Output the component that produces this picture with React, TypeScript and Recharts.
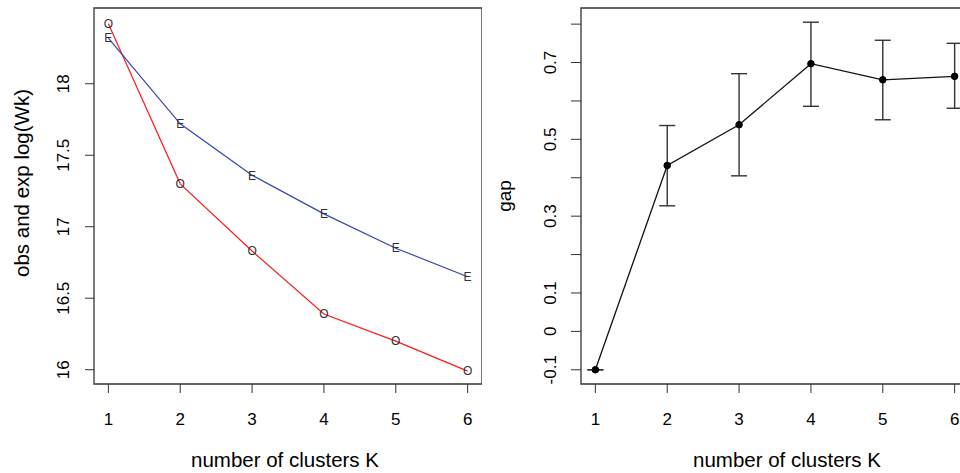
import {
  LineChart,
  Line,
  XAxis,
  YAxis,
  ReferenceArea,
  ErrorBar,
} from 'recharts'

// number of clusters
const clusters = [1, 2, 3, 4, 5, 6]

// left panel: observed vs expected log(Wk)
const observedLogW = [18.42, 17.3, 16.83, 16.39, 16.2, 15.99]
const expectedLogW = [18.32, 17.72, 17.36, 17.09, 16.85, 16.65]
const logWTicks = [16, 16.5, 17, 17.5, 18]
const logWTickLabels = ['16', '16.5', '17', '17.5', '18']

// right panel: gap statistic with error bars
const gapValues = [-0.1, 0.432, 0.538, 0.697, 0.655, 0.664]
const gapLower = [-0.1, 0.327, 0.405, 0.586, 0.551, 0.581]
const gapUpper = [-0.1, 0.536, 0.671, 0.805, 0.758, 0.75]
const gapTicks = [-0.1, 0, 0.1, 0.2, 0.3, 0.4, 0.5, 0.6, 0.7, 0.8]
const gapTickLabels = ['-0.1', '0', '0.1', '', '0.3', '', '0.5', '', '0.7', '']

const X_DOMAIN: [number, number] = [0.8, 6.2]
const LOGW_DOMAIN: [number, number] = [15.9, 18.53]
const GAP_DOMAIN: [number, number] = [-0.137, 0.842]

const FONT = '"Liberation Sans", Arial, Helvetica, sans-serif'
const AXIS_COLOR = '#333'
const TICK_FONT = 17

const logWData = clusters.map((k, i) => ({
  k,
  obs: observedLogW[i],
  exp: expectedLogW[i],
}))

const gapData = clusters.map((k, i) => ({
  k,
  gap: gapValues[i],
  err: [gapValues[i] - gapLower[i], gapUpper[i] - gapValues[i]],
}))

function RotatedTick(props: any) {
  const { x, y, payload, index, labels } = props
  const text = labels[payload.index ?? index] ?? ''
  if (!text) return <g />
  return (
    <text
      x={x}
      y={y}
      transform={`rotate(-90 ${x} ${y})`}
      textAnchor="middle"
      fontSize={TICK_FONT}
      fill="#000"
    >
      {text}
    </text>
  )
}

// draws a letter centred on the point, like R's pch = "O"
const letterDot = (ch: string) => (props: any) => {
  const { cx, cy, index } = props
  return (
    <text
      key={`${ch}-${index}`}
      x={cx}
      y={cy}
      dy={4.3}
      textAnchor="middle"
      fontSize={12}
      fill="#333"
    >
      {ch}
    </text>
  )
}

function yTitle(text: string, x: number, y: number, size: number) {
  return () => (
    <text
      x={x}
      y={y}
      transform={`rotate(-90 ${x} ${y})`}
      textAnchor="middle"
      fontSize={size}
      fill="#000"
    >
      {text}
    </text>
  )
}

function xTitle(cx: number) {
  return () => (
    <text x={cx} y={466.5} textAnchor="middle" fontSize={20.5} fill="#000">
      number of clusters K
    </text>
  )
}

export default function App() {
  return (
    <div
      style={{
        position: 'absolute',
        left: 0,
        top: 0,
        width: 960,
        height: 473,
        overflow: 'hidden',
        background: '#fff',
        fontFamily: FONT,
      }}
    >
      <div style={{ position: 'absolute', left: 0, top: 0 }}>
        <LineChart
          width={482}
          height={473}
          data={logWData}
          margin={{ top: 8, right: 0, left: 0, bottom: 0 }}
        >
          <XAxis
            dataKey="k"
            type="number"
            domain={X_DOMAIN}
            ticks={clusters}
            allowDataOverflow
            height={89}
            axisLine={false}
            tickLine={{ stroke: AXIS_COLOR }}
            tickSize={9}
            tickMargin={20}
            tick={{ fill: '#000', fontSize: TICK_FONT }}
            label={{ content: xTitle(285) }}
          />
          <YAxis
            type="number"
            domain={LOGW_DOMAIN}
            ticks={logWTicks}
            allowDataOverflow
            width={94}
            axisLine={false}
            tickLine={{ stroke: AXIS_COLOR }}
            tickSize={9}
            tickMargin={16}
            tick={(p: any) => <RotatedTick {...p} labels={logWTickLabels} />}
            label={{ content: yTitle('obs and exp log(Wk)', 28.5, 183, 20.5) }}
          />
          <ReferenceArea
            x1={X_DOMAIN[0]}
            x2={X_DOMAIN[1]}
            y1={LOGW_DOMAIN[0]}
            y2={LOGW_DOMAIN[1]}
            fill="none"
            stroke={AXIS_COLOR}
            strokeWidth={1.3}
          />
          <Line
            dataKey="obs"
            stroke="#ff1a1a"
            strokeWidth={1.2}
            dot={letterDot('O')}
            activeDot={false}
            isAnimationActive={false}
          />
          <Line
            dataKey="exp"
            stroke="#3646b0"
            strokeWidth={1.2}
            dot={letterDot('E')}
            activeDot={false}
            isAnimationActive={false}
          />
        </LineChart>
      </div>

      <div style={{ position: 'absolute', left: 480, top: 0 }}>
        <LineChart
          width={489}
          height={473}
          data={gapData}
          margin={{ top: 8, right: 0, left: 0, bottom: 0 }}
        >
          <XAxis
            dataKey="k"
            type="number"
            domain={X_DOMAIN}
            ticks={clusters}
            allowDataOverflow
            height={89}
            axisLine={false}
            tickLine={{ stroke: AXIS_COLOR }}
            tickSize={9}
            tickMargin={20}
            tick={{ fill: '#000', fontSize: TICK_FONT }}
            label={{ content: xTitle(307) }}
          />
          <YAxis
            type="number"
            domain={GAP_DOMAIN}
            ticks={gapTicks}
            allowDataOverflow
            width={101}
            axisLine={false}
            tickLine={{ stroke: AXIS_COLOR }}
            tickSize={10}
            tickMargin={15}
            tick={(p: any) => <RotatedTick {...p} labels={gapTickLabels} />}
            label={{ content: yTitle('gap', 31, 196, 19) }}
          />
          <ReferenceArea
            x1={X_DOMAIN[0]}
            x2={X_DOMAIN[1]}
            y1={GAP_DOMAIN[0]}
            y2={GAP_DOMAIN[1]}
            fill="none"
            stroke={AXIS_COLOR}
            strokeWidth={1.3}
          />
          <Line
            dataKey="gap"
            stroke="#111"
            strokeWidth={1.3}
            dot={{ r: 3.3, fill: '#000', stroke: '#000', strokeWidth: 1 }}
            activeDot={false}
            isAnimationActive={false}
          >
            <ErrorBar
              dataKey="err"
              direction="y"
              width={8}
              stroke="#333"
              strokeWidth={1.4}
              isAnimationActive={false}
            />
          </Line>
        </LineChart>
      </div>
    </div>
  )
}
